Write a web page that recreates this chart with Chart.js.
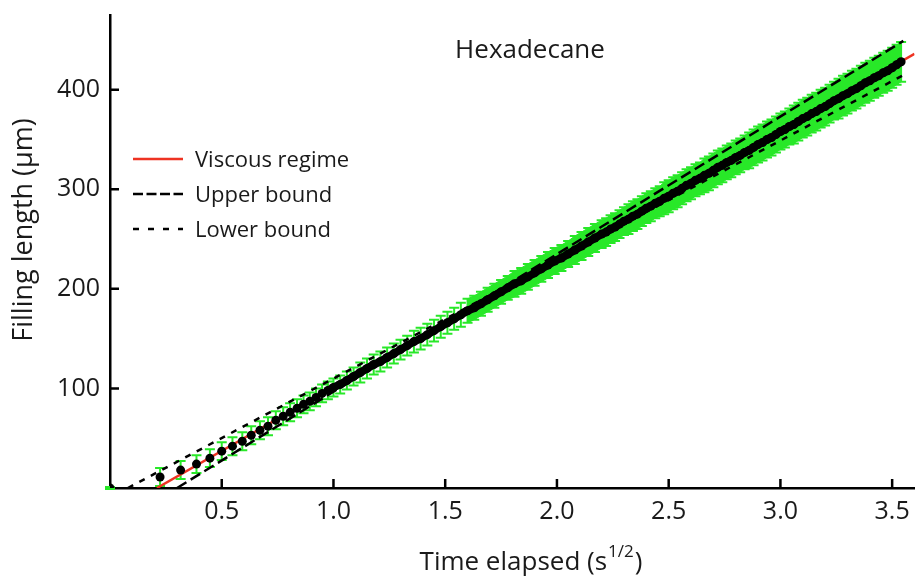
<!DOCTYPE html>
<html>
<head>
<meta charset="utf-8">
<script src="https://cdn.jsdelivr.net/npm/chart.js@4.4.1/dist/chart.umd.min.js"></script>
<style>
  html, body { margin: 0; padding: 0; background: #fff; }
</style>
</head>
<body>
<canvas id="chart" width="919" height="576"></canvas>
<script>
// measured points: sqrt(time) vs filling length, with error
const timeX = [0, 0.224, 0.316, 0.387, 0.447, 0.5, 0.548, 0.592, 0.632, 0.671, 0.707, 0.742, 0.775, 0.806, 0.837, 0.866, 0.894, 0.922, 0.949, 0.975, 1.0,
  1.03, 1.06, 1.09, 1.12, 1.15, 1.18, 1.21, 1.24, 1.27, 1.30, 1.33, 1.36, 1.39, 1.42, 1.45, 1.48, 1.51, 1.54, 1.57, 1.60,
  1.63, 1.66, 1.69, 1.72, 1.75, 1.78, 1.81, 1.84, 1.87, 1.90, 1.93, 1.96, 1.99, 2.02, 2.05, 2.08, 2.11, 2.14, 2.17, 2.20,
  2.22, 2.24, 2.26, 2.28, 2.30, 2.32, 2.34, 2.36, 2.38, 2.40, 2.42, 2.44, 2.46, 2.48, 2.50, 2.52, 2.54, 2.56, 2.58, 2.60,
  2.62, 2.64, 2.66, 2.68, 2.70, 2.72, 2.74, 2.76, 2.78, 2.80, 2.82, 2.84, 2.86, 2.88, 2.90, 2.92, 2.94, 2.96, 2.98, 3.00,
  3.02, 3.04, 3.06, 3.08, 3.10, 3.12, 3.14, 3.16, 3.18, 3.20, 3.22, 3.24, 3.26, 3.28, 3.30, 3.32, 3.34, 3.36, 3.38, 3.40,
  3.42, 3.44, 3.46, 3.48, 3.50, 3.52, 3.54];
const fillY = [0, 11, 18, 24, 30, 37, 42, 47, 53, 58, 62, 68, 72, 76, 80, 84, 87, 91, 95, 98, 101,
  104, 108, 112, 116, 120, 124, 127, 131, 135, 139, 143, 147, 150, 154, 158, 162, 166, 170, 174, 178,
  181, 185, 189, 193, 197, 201, 205, 208, 212, 216, 220, 224, 228, 231, 235, 239, 243, 247, 251, 255,
  257, 260, 262, 265, 268, 270, 273, 275, 278, 281, 283, 286, 288, 291, 293, 296, 298, 301, 304, 306,
  309, 311, 314, 316, 319, 322, 324, 327, 329, 332, 334, 337, 339, 342, 345, 347, 350, 352, 355, 358,
  360, 363, 365, 368, 371, 373, 376, 378, 381, 383, 386, 389, 391, 394, 396, 399, 401, 404, 407, 409,
  412, 414, 417, 419, 422, 425, 428];
const errY = [1, 9, 9, 9, 9, 9, 9, 9, 9, 9, 9, 9, 9, 9, 9, 9, 9, 9, 9, 9, 9,
  9, 9, 9, 10, 10, 10, 10, 10, 10, 10, 10, 11, 11, 11, 11, 11, 11, 11, 12, 12,
  12, 12, 12, 12, 12, 12, 13, 13, 13, 13, 13, 13, 13, 13, 13, 14, 14, 14, 14, 14,
  14, 14, 14, 14, 14, 15, 15, 15, 15, 15, 15, 15, 15, 16, 16, 16, 16, 16, 16, 16,
  16, 16, 17, 17, 17, 17, 17, 17, 17, 17, 17, 17, 18, 18, 18, 18, 18, 18, 18, 18,
  18, 18, 19, 19, 19, 19, 19, 19, 19, 19, 19, 19, 20, 20, 20, 20, 20, 20, 20, 20,
  20, 20, 20, 20, 20, 20, 20];

// fitted lines
const viscousX = [0.21, 3.6];
const viscousY = [0, 436];
const upperX = [0.30, 3.55];
const upperY = [0, 449];
const lowerX = [0.08, 3.57];
const lowerY = [0, 417];

const xTicks = [0.5, 1.0, 1.5, 2.0, 2.5, 3.0, 3.5];
const yTicks = [100, 200, 300, 400];

const GREEN = 'rgb(40,232,40)';
const RED = '#ee3322';
const FONT = "'Open Sans', 'Noto Sans', sans-serif";
const TXT = '#1a1a1a';

const pts = (xs, ys) => xs.map((x, i) => ({ x, y: ys[i] }));
const BAND_FROM = 1.6;
const bandHi = timeX.map((x, i) => ({ x, y: fillY[i] + errY[i] })).filter(p => p.x >= BAND_FROM);
const bandLo = timeX.map((x, i) => ({ x, y: fillY[i] - errY[i] })).filter(p => p.x >= BAND_FROM);

const decor = {
  id: 'decor',
  beforeDatasetsDraw(chart) {
    const { ctx, scales: { x, y } } = chart;
    ctx.save();
    ctx.strokeStyle = GREEN;
    ctx.lineWidth = 2;
    timeX.forEach((tx, i) => {
      const px = x.getPixelForValue(tx);
      const top = y.getPixelForValue(fillY[i] + errY[i]);
      const bot = y.getPixelForValue(fillY[i] - errY[i]);
      ctx.beginPath();
      ctx.moveTo(px, top); ctx.lineTo(px, bot);
      ctx.moveTo(px - 5, top); ctx.lineTo(px + 5, top);
      ctx.moveTo(px - 5, bot); ctx.lineTo(px + 5, bot);
      ctx.stroke();
    });
    ctx.restore();
  },
  afterDraw(chart) {
    const { ctx, chartArea: a, scales: { x, y } } = chart;
    ctx.save();
    // inward tick marks
    ctx.strokeStyle = '#000';
    ctx.lineWidth = 2.5;
    ctx.beginPath();
    xTicks.forEach(v => {
      const px = x.getPixelForValue(v);
      ctx.moveTo(px, a.bottom); ctx.lineTo(px, a.bottom - 9);
    });
    yTicks.forEach(v => {
      const py = y.getPixelForValue(v);
      ctx.moveTo(a.left, py); ctx.lineTo(a.left + 9, py);
    });
    ctx.stroke();

    ctx.fillStyle = TXT;
    // title inside plot
    ctx.font = '26px ' + FONT;
    ctx.textAlign = 'center';
    ctx.textBaseline = 'alphabetic';
    ctx.fillText('Hexadecane', 530, 58);

    // x axis title with superscript
    const main = 'Time elapsed (s', sup = '1/2', end = ')';
    ctx.font = '26px ' + FONT;
    const w1 = ctx.measureText(main).width, w3 = ctx.measureText(end).width;
    ctx.font = '17px ' + FONT;
    const w2 = ctx.measureText(sup).width;
    let sx = 531 - (w1 + w2 + w3 + 2) / 2;
    ctx.textAlign = 'left';
    ctx.font = '26px ' + FONT;
    ctx.fillText(main, sx, 570);
    ctx.font = '17px ' + FONT;
    ctx.fillText(sup, sx + w1 + 1, 557);
    ctx.font = '26px ' + FONT;
    ctx.fillText(end, sx + w1 + w2 + 2, 570);

    // y axis title
    ctx.font = '27px ' + FONT;
    ctx.translate(32, 230);
    ctx.rotate(-Math.PI / 2);
    ctx.textAlign = 'center';
    ctx.fillText('Filling length (\u00b5m)', 0, 0);
    ctx.setTransform(1, 0, 0, 1, 0, 0);

    // legend
    const entries = chart.data.datasets.filter(d => d.label);
    ctx.font = '22px ' + FONT;
    ctx.textAlign = 'left';
    entries.forEach((d, i) => {
      const base = 166.5 + i * 35;
      const ly = base - 7.5;
      ctx.strokeStyle = d.borderColor;
      ctx.lineWidth = d.borderWidth;
      ctx.setLineDash(d.legendDash || []);
      ctx.beginPath();
      ctx.moveTo(133, ly); ctx.lineTo(183, ly);
      ctx.stroke();
      ctx.setLineDash([]);
      ctx.fillStyle = TXT;
      ctx.fillText(d.label, 195, base);
    });
    ctx.restore();
  }
};

new Chart(document.getElementById('chart'), {
  type: 'scatter',
  data: {
    datasets: [
      {
        data: pts(timeX, fillY),
        showLine: true,
        borderColor: '#000',
        borderWidth: 8,
        borderJoinStyle: 'round',
        segment: { borderColor: c => c.p0.parsed.x < 0.95 ? 'rgba(0,0,0,0)' : '#000' },
        pointRadius: 4.5,
        pointBackgroundColor: '#000',
        pointBorderWidth: 0,
        order: 1
      },
      {
        label: 'Viscous regime',
        data: pts(viscousX, viscousY),
        showLine: true, pointRadius: 0,
        borderColor: RED, borderWidth: 2.5,
        order: 3
      },
      {
        label: 'Upper bound',
        data: pts(upperX, upperY),
        showLine: true, pointRadius: 0,
        borderColor: '#000', borderWidth: 2.5,
        borderDash: [11, 5], legendDash: [10, 3.5],
        order: 2
      },
      {
        label: 'Lower bound',
        data: pts(lowerX, lowerY),
        showLine: true, pointRadius: 0,
        borderColor: '#000', borderWidth: 2.5,
        borderDash: [6, 7], legendDash: [6, 9],
        order: 2
      },
      {
        data: bandHi, showLine: true, pointRadius: 0,
        borderColor: GREEN, borderWidth: 1,
        backgroundColor: GREEN, fill: '+1',
        order: 6
      },
      {
        data: bandLo, showLine: true, pointRadius: 0,
        borderColor: GREEN, borderWidth: 1,
        order: 6
      }
    ]
  },
  options: {
    responsive: false,
    animation: false,
    events: [],
    layout: { padding: { top: 15, right: 0, left: 0, bottom: 0 } },
    plugins: { legend: { display: false }, tooltip: { enabled: false } },
    scales: {
      x: {
        type: 'linear', min: 0, max: 3.6,
        afterFit: s => { s.height = 88; s.paddingLeft = 0; s.paddingRight = 0; },
        grid: { display: false, drawTicks: false },
        border: { display: true, color: '#000', width: 2.5 },
        ticks: {
          stepSize: 0.5, includeBounds: false, maxRotation: 0, autoSkip: false, padding: 9,
          color: TXT, font: { family: FONT, size: 25 },
          callback: v => v === 0 ? '' : v.toFixed(1)
        }
      },
      y: {
        type: 'linear', min: 0, max: 475,
        afterFit: s => { s.width = 110; s.paddingTop = 0; s.paddingBottom = 0; },
        grid: { display: false, drawTicks: false },
        border: { display: true, color: '#000', width: 2.5 },
        ticks: {
          stepSize: 100, includeBounds: false, padding: 10,
          color: TXT, font: { family: FONT, size: 25 },
          callback: v => v === 0 ? '' : v
        }
      }
    }
  },
  plugins: [decor]
});
</script>
</body>
</html>
